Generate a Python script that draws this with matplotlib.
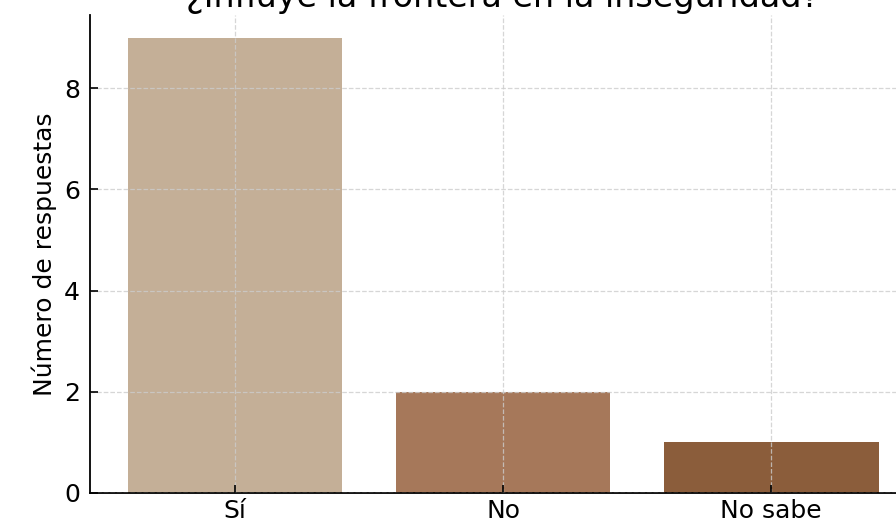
import matplotlib
matplotlib.use("Agg")
import matplotlib.pyplot as plt

categorias = ["Sí", "No", "No sabe"]
respuestas = [9, 2, 1]
colores = ["#C4AF97", "#A6785A", "#8B5D3B"]

fig = plt.figure(figsize=(8.96, 5.22), dpi=100)
ax = fig.add_axes([0.1004, 0.0556, 0.922, 0.9157])

ax.bar(categorias, respuestas, color=colores, width=0.8)

ax.grid(True, linestyle="--", color="#cccccc", linewidth=0.9, alpha=0.8)
ax.set_axisbelow(False)

ax.set_title("¿Influye la frontera en la inseguridad?", fontsize=24, pad=6)
ax.set_ylabel("Número de respuestas", fontsize=18, labelpad=5)
ax.tick_params(axis="both", labelsize=18, direction="in", length=6, width=1.2)
ax.tick_params(axis="y", pad=7)
ax.tick_params(axis="x", pad=4)
ax.set_yticks([0, 2, 4, 6, 8])

for lado in ["top", "right"]:
    ax.spines[lado].set_visible(False)
for lado in ["left", "bottom"]:
    ax.spines[lado].set_linewidth(1.3)

fig.savefig("out.png", dpi=100)
